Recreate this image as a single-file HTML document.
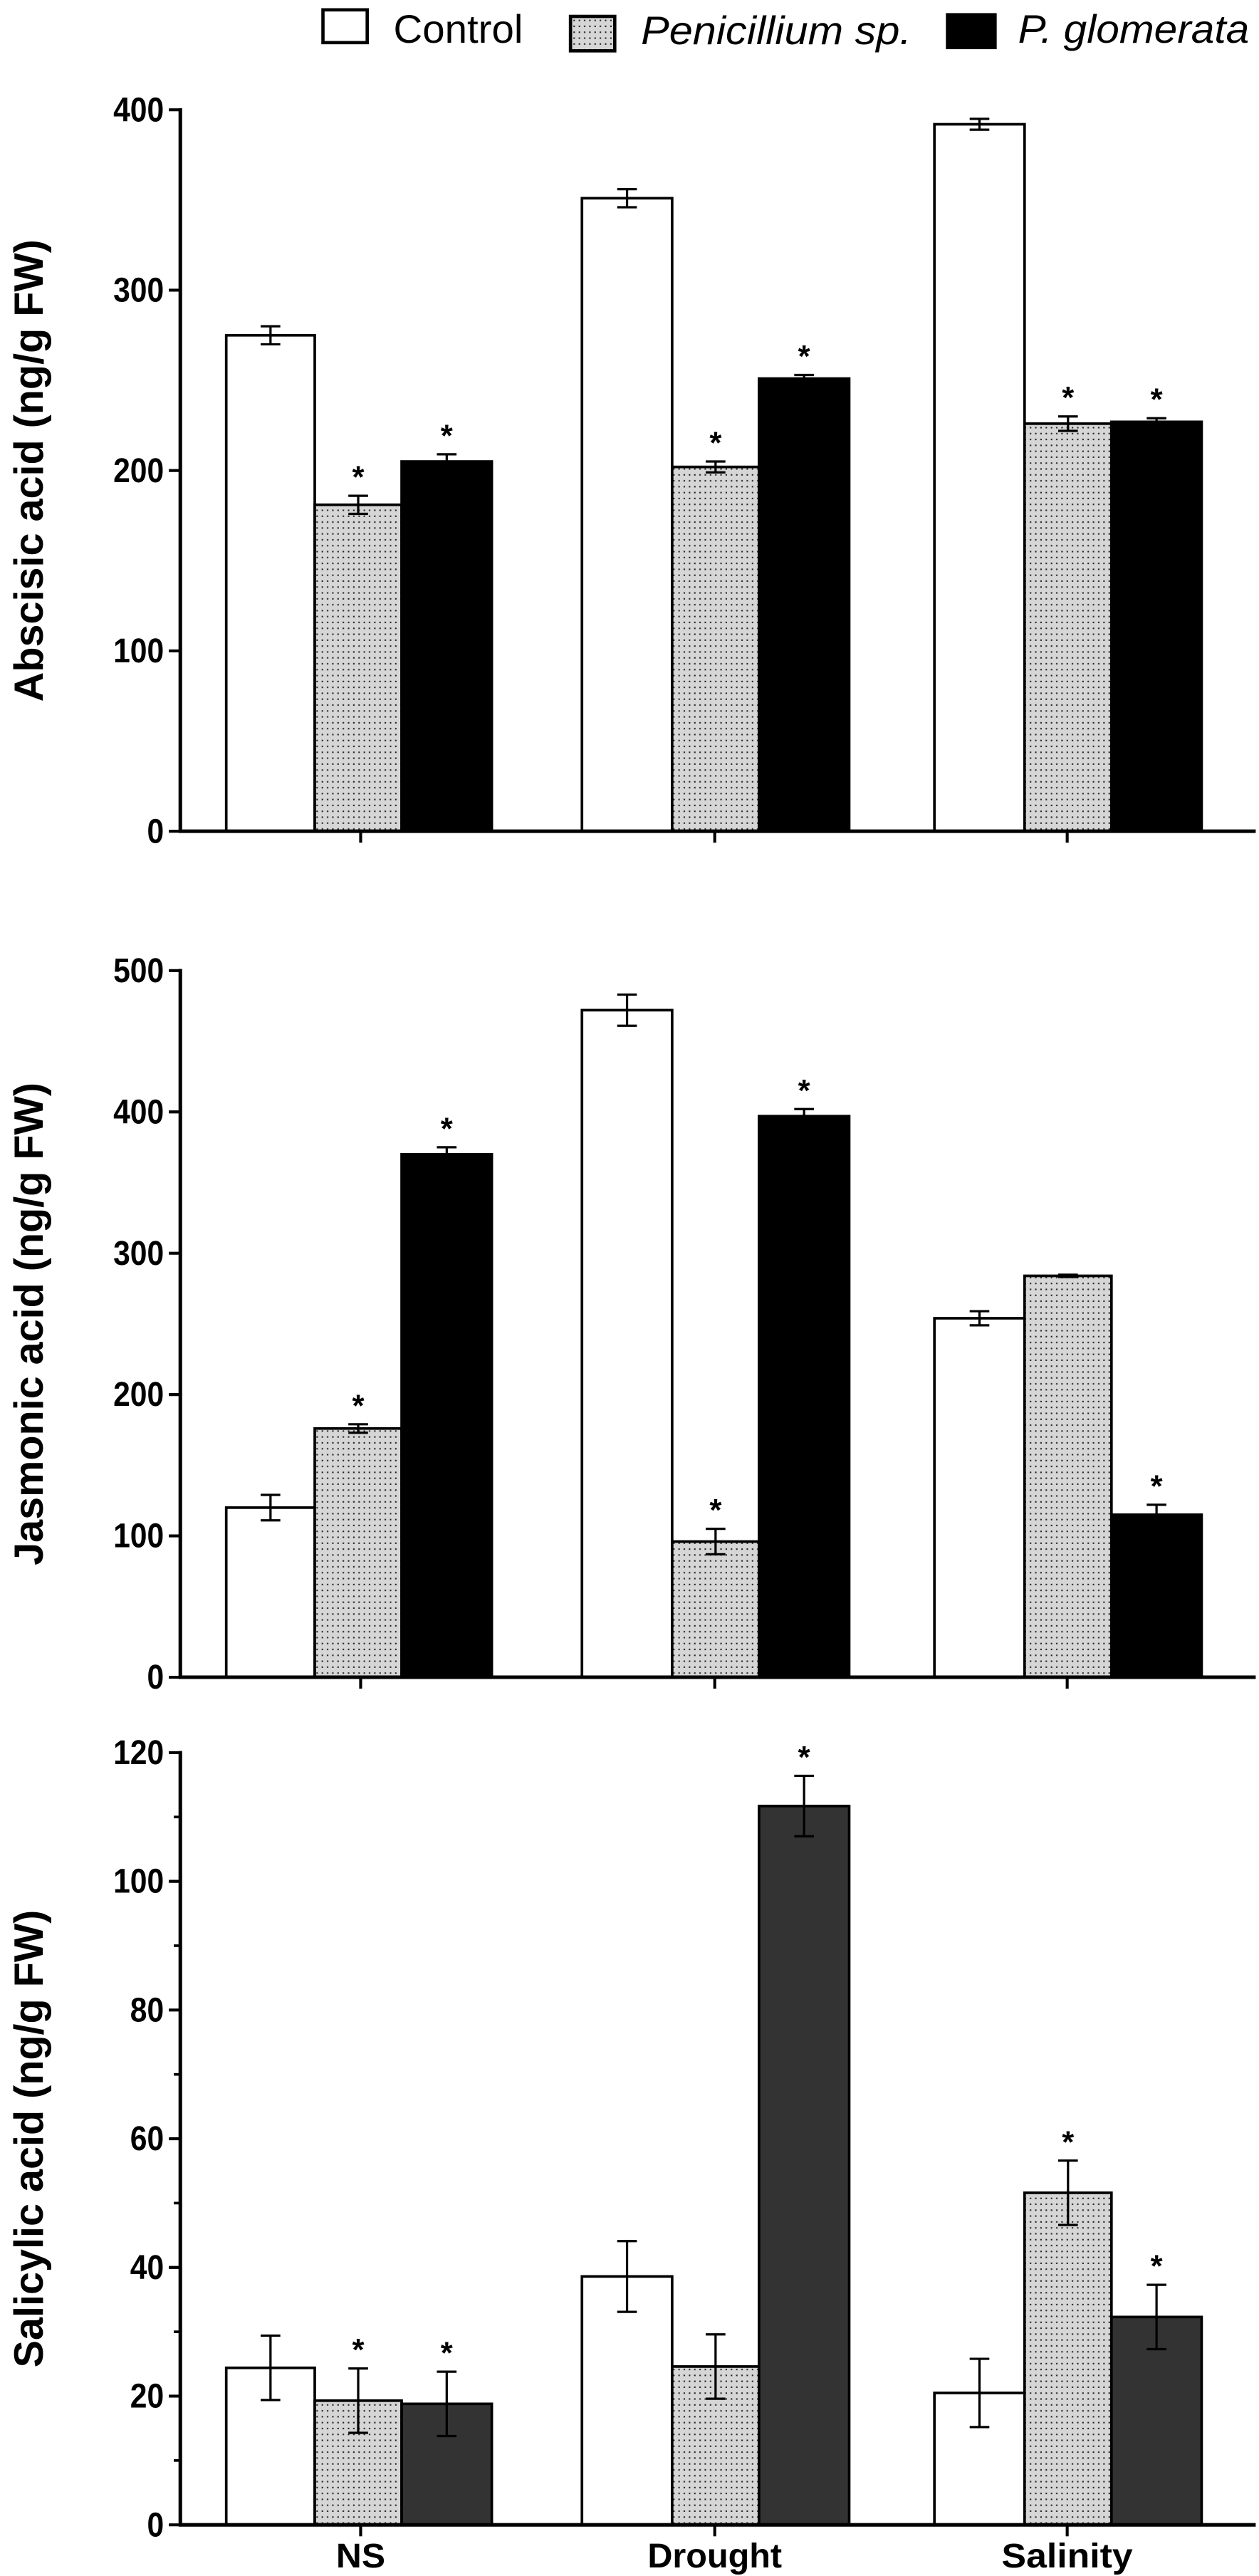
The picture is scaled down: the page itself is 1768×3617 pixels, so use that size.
<!DOCTYPE html>
<html><head><meta charset="utf-8"><style>
html,body{margin:0;padding:0;background:#fff;}
svg{display:block;}
text{font-family:"Liberation Sans",Arial,sans-serif;}
</style></head><body>
<svg id="s" xmlns="http://www.w3.org/2000/svg" width="1768" height="3617" viewBox="0 0 768 1571.2">
<defs>
<pattern id="dots" patternUnits="userSpaceOnUse" width="3.2" height="3.6">
<rect width="3.2" height="3.6" fill="#d6d6d6"/>
<rect x="1" y="1.2" width="0.9" height="0.9" fill="#222"/>
</pattern>
</defs>
<rect width="768" height="1571.2" fill="#fff"/>
<g id="g"></g>
</svg>
<script>
var NS="http://www.w3.org/2000/svg",G=document.getElementById('g');
function el(t,a,txt){var e=document.createElementNS(NS,t);for(var k in a)e.setAttribute(k,a[k]);if(txt!==undefined)e.textContent=txt;G.appendChild(e);return e;}
// legend
el('rect',{x:197,y:6,width:27,height:20,fill:'#fff',stroke:'#000','stroke-width':2});
el('text',{x:240,y:26,'font-size':24,textLength:79,lengthAdjust:'spacingAndGlyphs'},'Control');
el('rect',{x:348,y:10,width:27,height:21,fill:'url(#dots)',stroke:'#000','stroke-width':2});
el('text',{x:391,y:27,'font-size':24,'font-style':'italic',textLength:165,lengthAdjust:'spacingAndGlyphs'},'Penicillium sp.');
el('rect',{x:578,y:9,width:29,height:20,fill:'#000',stroke:'#000','stroke-width':2});
el('text',{x:621,y:26,'font-size':24,'font-style':'italic',textLength:141,lengthAdjust:'spacingAndGlyphs'},'P. glomerata');

var groups=[[138,192,245,300],[355,410,463,518],[570,625,678,733]];
var centers=[220,436,651];
function chart(o){
  var y0=o.y0,yt=o.yt,max=o.max;
  function Y(v){return y0-(v/max)*(y0-yt);}
  for(var g=0;g<3;g++){
    for(var b=0;b<3;b++){
      var d=o.data[g][b],x1=groups[g][b],x2=groups[g][b+1];
      var fill=b==0?'#fff':(b==1?'url(#dots)':o.dark);
      el('rect',{x:x1,y:Y(d[0]),width:x2-x1,height:y0-Y(d[0]),fill:fill,stroke:'#000','stroke-width':1.6});
      var cx=(x1+x2)/2;
      if(d[1]>0){
        el('line',{x1:cx,x2:cx,y1:Y(d[0]+d[1]),y2:Y(d[0]-d[1]),stroke:'#000','stroke-width':1.4});
        el('line',{x1:cx-6,x2:cx+6,y1:Y(d[0]+d[1]),y2:Y(d[0]+d[1]),stroke:'#000','stroke-width':1.4});
        el('line',{x1:cx-6,x2:cx+6,y1:Y(d[0]-d[1]),y2:Y(d[0]-d[1]),stroke:'#000','stroke-width':1.4});
      }
      if(d[2]) el('text',{x:cx,y:Y(d[0]+d[1])-5,'font-size':19,'font-weight':'bold','text-anchor':'middle'},'*');
    }
  }
  el('line',{x1:110,x2:110,y1:yt-1,y2:y0+1,stroke:'#000','stroke-width':2.2});
  el('line',{x1:109,x2:766,y1:y0,y2:y0,stroke:'#000','stroke-width':2.2});
  for(var i=0;i<3;i++) el('line',{x1:centers[i],x2:centers[i],y1:y0,y2:y0+7,stroke:'#000','stroke-width':1.8});
  for(var v=0;v<=max+1e-9;v+=o.step){
    var y=Y(v);
    el('line',{x1:103,x2:110,y1:y,y2:y,stroke:'#000','stroke-width':1.8});
    var s=String(v);
    el('text',{x:100,y:y+7,'font-size':21,'font-weight':'bold','text-anchor':'end',textLength:s.length*10.3,lengthAdjust:'spacingAndGlyphs'},s);
  }
  if(o.minor){for(var v=o.minor;v<max;v+=o.step){var y=Y(v);el('line',{x1:106,x2:110,y1:y,y2:y,stroke:'#000','stroke-width':1.6});}}
  var cy=(yt+y0)/2;
  el('text',{x:0,y:0,'font-size':25,'font-weight':'bold','text-anchor':'middle',transform:'translate(26,'+cy+') rotate(-90)'},o.title);
}
chart({y0:507,yt:67,max:400,step:100,dark:'#000',title:'Abscisic acid (ng/g FW)',
 data:[[[275,5,0],[181,5,1],[205,4,1]],[[351,5,0],[202,3,1],[251,2,1]],[[392,3,0],[226,4,1],[227,2,1]]]});
chart({y0:1023,yt:592,max:500,step:100,dark:'#000',title:'Jasmonic acid (ng/g FW)',
 data:[[[120,9,0],[176,3,1],[370,5,1]],[[472,11,0],[96,9,1],[397,5,1]],[[254,5,0],[284,0.8,0],[115,7,1]]]});
chart({y0:1540,yt:1069,max:120,step:20,minor:10,dark:'#333',title:'Salicylic acid (ng/g FW)',
 data:[[[24.4,5,0],[19.3,5,1],[18.8,5,1]],[[38.6,5.5,0],[24.6,5,0],[111.7,4.7,1]],[[20.5,5.3,0],[51.6,5,1],[32.3,5,1]]]});
var labs=['NS','Drought','Salinity'],lw=[30,82,80];
for(var i=0;i<3;i++) el('text',{x:centers[i],y:1566,'font-size':21,'font-weight':'bold','text-anchor':'middle',textLength:lw[i],lengthAdjust:'spacingAndGlyphs'},labs[i]);
</script>
</body></html>
